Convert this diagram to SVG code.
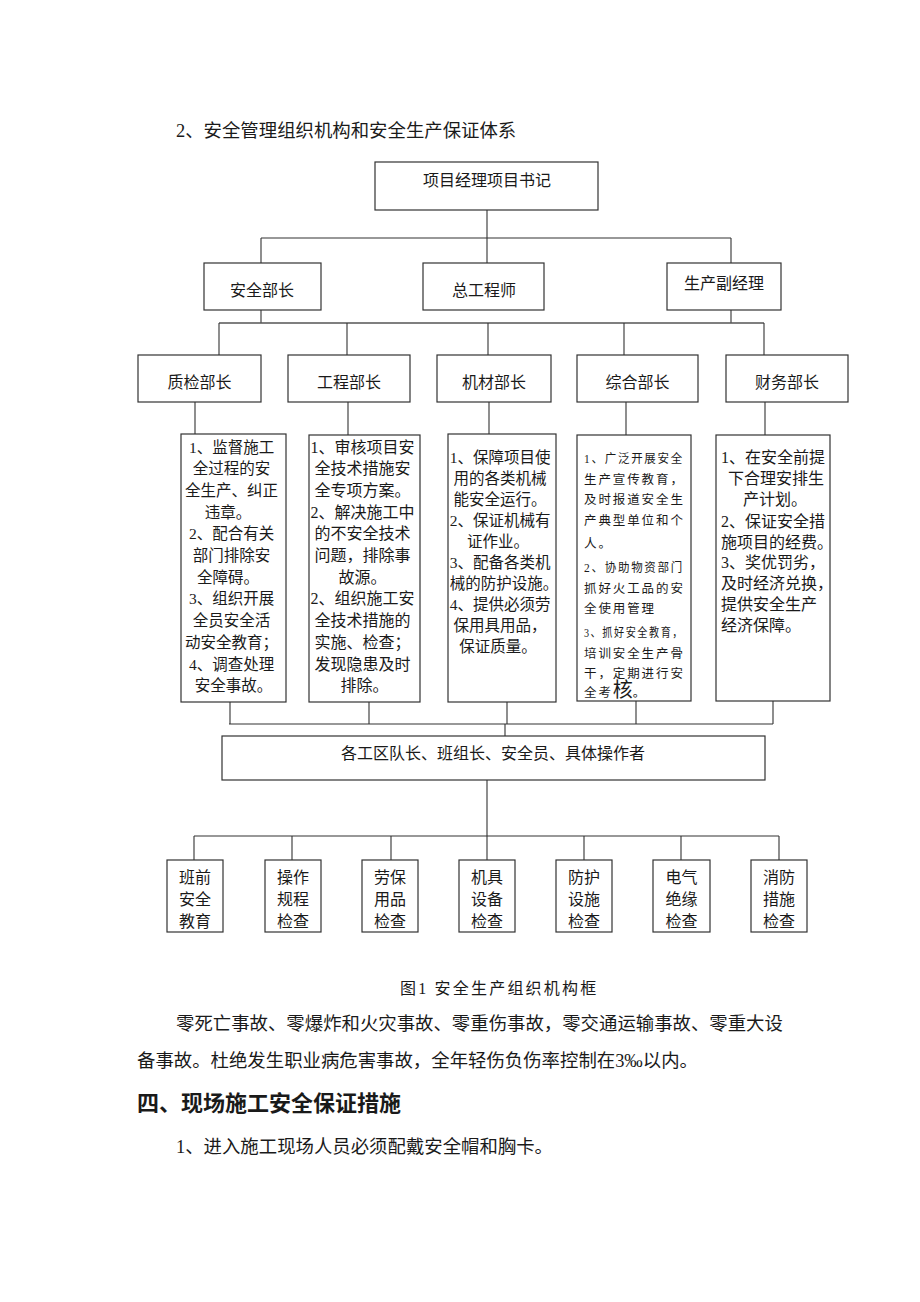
<svg xmlns="http://www.w3.org/2000/svg" width="920" height="1302" viewBox="0 0 920 1302">
<style>
.t{font-family:"Liberation Serif","Noto Sans CJK SC",serif;fill:#1a1a1a}
.box{fill:#fff;stroke:#333;stroke-width:1.2}
.ln{stroke:#333;stroke-width:1.1;fill:none}
.c{text-anchor:middle}
.f16{font-size:16px}
.f155{font-size:15.5px}
.f18{font-size:18.4px}
.small{font-size:12.5px;letter-spacing:1.9px}
</style>
<rect width="920" height="1302" fill="#fff"/>
<text class="t f18" x="176" y="137">2、安全管理组织机构和安全生产保证体系</text>

<g id="connectors">
<path class="ln" d="M487 210V238M261 238H731M261 238V263M487 238V263M731 238V263"/>
<path class="ln" d="M261 310V323M731 310V323"/>
<path d="M219 323H764" stroke="#555" stroke-width="1.6"/>
<path class="ln" d="M219 323V355M347 323V355M488 323V355M624 323V355M764 323V355"/>
<path class="ln" d="M195 402V434M348 402V435M489 402V434M626 402V435M765 402V435"/>
<path class="ln" d="M230 702V724M369 702V724M507 702V724M636 701V724M773 701V724M229 724H773M505 724V736"/>
<path class="ln" d="M487 780V836M194 836H779M194 836V860M292 836V860M391 836V860M487 836V860M584 836V860M681 836V860M779 836V860"/>
</g>

<g id="n-top"><rect class="box" x="375" y="162" width="223" height="48"/><text class="t f16 c" x="487" y="186">项目经理项目书记</text></g>

<g id="n-anquanbuzhang"><rect class="box" x="204" y="263" width="117" height="47"/><text class="t f16 c" x="262" y="296">安全部长</text></g>
<g id="n-zonggongchengshi"><rect class="box" x="423" y="263" width="121" height="47"/><text class="t f16 c" x="484" y="296">总工程师</text></g>
<g id="n-shengchanfujingli"><rect class="box" x="667" y="263" width="114" height="47"/><text class="t f16 c" x="724" y="289">生产副经理</text></g>

<g id="n-zhijian"><rect class="box" x="138" y="355" width="123" height="47"/><text class="t f16 c" x="199.5" y="388">质检部长</text></g>
<g id="n-gongcheng"><rect class="box" x="288" y="355" width="122" height="47"/><text class="t f16 c" x="349" y="388">工程部长</text></g>
<g id="n-jicai"><rect class="box" x="437" y="355" width="114" height="47"/><text class="t f16 c" x="494" y="388">机材部长</text></g>
<g id="n-zonghe"><rect class="box" x="577" y="355" width="121" height="47"/><text class="t f16 c" x="637.5" y="388">综合部长</text></g>
<g id="n-caiwu"><rect class="box" x="726" y="355" width="122" height="47"/><text class="t f16 c" x="787" y="388">财务部长</text></g>

<g id="d-zhijian"><rect class="box" x="181" y="434" width="105" height="268"/>
<text class="t f155 c">
<tspan x="233.5" y="452.5">1、监督施工</tspan>
<tspan x="233.5" y="474.2">全过程的安</tspan>
<tspan x="233.5" y="495.9">全生产、纠正</tspan>
<tspan x="230" y="517.6">违章。</tspan>
<tspan x="233.5" y="539.3">2、配合有关</tspan>
<tspan x="233.5" y="561">部门排除安</tspan>
<tspan x="230" y="582.7">全障碍。</tspan>
<tspan x="233.5" y="604.4">3、组织开展</tspan>
<tspan x="233.5" y="626.1">全员安全活</tspan>
<tspan x="233.5" y="647.8">动安全教育；</tspan>
<tspan x="233.5" y="669.5">4、调查处理</tspan>
<tspan x="233.5" y="691.2">安全事故。</tspan>
</text></g>

<g id="d-gongcheng"><rect class="box" x="309" y="435" width="111" height="267"/>
<text class="t f16 c">
<tspan x="364.5" y="452.5">1、审核项目安</tspan>
<tspan x="364.5" y="474.2">全技术措施安</tspan>
<tspan x="364.5" y="495.9">全专项方案。</tspan>
<tspan x="364.5" y="517.6">2、解决施工中</tspan>
<tspan x="364.5" y="539.3">的不安全技术</tspan>
<tspan x="364.5" y="561">问题，排除事</tspan>
<tspan x="364.5" y="582.7">故源。</tspan>
<tspan x="364.5" y="604.4">2、组织施工安</tspan>
<tspan x="364.5" y="626.1">全技术措施的</tspan>
<tspan x="364.5" y="647.8">实施、检查；</tspan>
<tspan x="364.5" y="669.5">发现隐患及时</tspan>
<tspan x="364.5" y="691.2">排除。</tspan>
</text></g>

<g id="d-jicai"><rect class="box" x="448" y="434" width="108" height="268"/>
<text class="t f155 c">
<tspan x="502" y="462.5">1、保障项目使</tspan>
<tspan x="502" y="483.5">用的各类机械</tspan>
<tspan x="502" y="504.5">能安全运行。</tspan>
<tspan x="502" y="525.5">2、保证机械有</tspan>
<tspan x="500" y="546.5">证作业。</tspan>
<tspan x="502" y="567.5">3、配备各类机</tspan>
<tspan x="506" y="588.5">械的防护设施。</tspan>
<tspan x="502" y="609.5">4、提供必须劳</tspan>
<tspan x="502" y="630.5">保用具用品，</tspan>
<tspan x="498" y="651.5">保证质量。</tspan>
</text></g>

<g id="d-zonghe"><rect class="box" x="577" y="435" width="114" height="266"/>
<text class="t small">
<tspan x="584" y="462.5" textLength="100" lengthAdjust="spacingAndGlyphs">1、广泛开展安全</tspan>
<tspan x="584" y="483.5">生产宣传教育，</tspan>
<tspan x="584" y="503.5">及时报道安全生</tspan>
<tspan x="584" y="524.5">产典型单位和个</tspan>
<tspan x="584" y="547.5">人。</tspan>
<tspan x="584" y="571.5" textLength="100" lengthAdjust="spacingAndGlyphs">2、协助物资部门</tspan>
<tspan x="584" y="592.5">抓好火工品的安</tspan>
<tspan x="584" y="612.5">全使用管理</tspan>
<tspan x="584" y="636.5" textLength="100" lengthAdjust="spacingAndGlyphs">3、抓好安全教育，</tspan>
<tspan x="584" y="657.5">培训安全生产骨</tspan>
<tspan x="584" y="677.5">干，定期进行安</tspan>
<tspan x="584" y="697">全考<tspan style="font-size:20px;letter-spacing:0">核</tspan>。</tspan>
</text></g>

<g id="d-caiwu"><rect class="box" x="716" y="435" width="114" height="266"/>
<text class="t f16">
<tspan x="721" y="462.5">1、在安全前提</tspan>
<tspan x="728" y="483.5">下合理安排生</tspan>
<tspan x="743" y="504.5">产计划。</tspan>
<tspan x="721" y="526.5">2、保证安全措</tspan>
<tspan x="721" y="547.5">施项目的经费。</tspan>
<tspan x="721" y="567.5">3、奖优罚劣，</tspan>
<tspan x="721" y="588.5">及时经济兑换，</tspan>
<tspan x="721" y="609.5">提供安全生产</tspan>
<tspan x="721" y="630.5">经济保障。</tspan>
</text></g>

<g id="n-gongqu"><rect class="box" x="222" y="736" width="543" height="44"/><text class="t f16 c" x="493" y="759">各工区队长、班组长、安全员、具体操作者</text></g>

<g id="b1"><rect class="box" x="167" y="860" width="56" height="72"/><text class="t f16 c"><tspan x="195" y="883">班前</tspan><tspan x="195" y="905">安全</tspan><tspan x="195" y="927">教育</tspan></text></g>
<g id="b2"><rect class="box" x="265" y="860" width="56" height="72"/><text class="t f16 c"><tspan x="293" y="883">操作</tspan><tspan x="293" y="905">规程</tspan><tspan x="293" y="927">检查</tspan></text></g>
<g id="b3"><rect class="box" x="362" y="860" width="56" height="72"/><text class="t f16 c"><tspan x="390" y="883">劳保</tspan><tspan x="390" y="905">用品</tspan><tspan x="390" y="927">检查</tspan></text></g>
<g id="b4"><rect class="box" x="459" y="860" width="56" height="72"/><text class="t f16 c"><tspan x="487" y="883">机具</tspan><tspan x="487" y="905">设备</tspan><tspan x="487" y="927">检查</tspan></text></g>
<g id="b5"><rect class="box" x="556" y="860" width="56" height="72"/><text class="t f16 c"><tspan x="584" y="883">防护</tspan><tspan x="584" y="905">设施</tspan><tspan x="584" y="927">检查</tspan></text></g>
<g id="b6"><rect class="box" x="653" y="860" width="57" height="72"/><text class="t f16 c"><tspan x="681.5" y="883">电气</tspan><tspan x="681.5" y="905">绝缘</tspan><tspan x="681.5" y="927">检查</tspan></text></g>
<g id="b7"><rect class="box" x="751" y="860" width="56" height="72"/><text class="t f16 c"><tspan x="779" y="883">消防</tspan><tspan x="779" y="905">措施</tspan><tspan x="779" y="927">检查</tspan></text></g>

<text class="t f16" x="400" y="994" style="letter-spacing:2.2px">图1 安全生产组织机构框</text>
<text class="t f18" x="176" y="1029.5">零死亡事故、零爆炸和火灾事故、零重伤事故，零交通运输事故、零重大设</text>
<text class="t f18" x="137" y="1066.5">备事故。杜绝发生职业病危害事故，全年轻伤负伤率控制在3‰以内。</text>
<text class="t" x="137" y="1111" style="font-size:22px;font-weight:bold">四、现场施工安全保证措施</text>
<text class="t f18" x="176" y="1152.5">1、进入施工现场人员必须配戴安全帽和胸卡。</text>
</svg>
